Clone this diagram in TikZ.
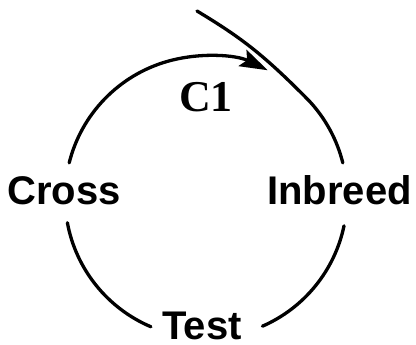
\documentclass[tikz,border=0pt]{standalone}
\usepackage{fontspec}
\setmainfont{Liberation Sans}
\newfontfamily\cfont{Liberation Serif}
\usetikzlibrary{arrows.meta,calc}
\tikzset{
  cyc/.style={line width=3.3pt, line cap=round},
  lab/.style={font=\fontsize{40}{40}\selectfont\bfseries, inner sep=0pt, anchor=base},
  clab/.style={font=\fontsize{44}{44}\selectfont\cfont\bfseries, inner sep=0pt, anchor=base}
}
\begin{document}
\begin{tikzpicture}[x=1pt,y=1pt]
\useasboundingbox (0,0) rectangle (416,345);
\coordinate (O) at (206,148);
\def\R{141}
% labels
\node[lab] (cross) at (64,140) {Cross};
\node[lab] (inbreed) at (339.5,140) {Inbreed};
\node[lab] (test) at (202,5) {Test};
\node[clab] (c1) at (206,233) {C1};
% points on the cycle
\coordinate (tl) at ($(O)+(166:\R)$);
\coordinate (bl) at ($(O)+(190.5:\R)$);
\coordinate (br) at ($(O)+(-66.4:\R)$);
\coordinate (ra) at ($(O)+(43:\R)$);
\coordinate (tail) at (197,334);
% top arc with arrow
\draw[cyc, -{Stealth[length=28pt,width=18pt,inset=5pt]}] (tl) arc[start angle=166, end angle=64, radius=\R];
% tail entering from the top and right arc down to Inbreed
\draw[cyc] (tail) .. controls (240,308) and (262,292) .. (ra) arc[start angle=43, end angle=14, radius=\R];
% bottom left arc
\draw[cyc] (bl) arc[start angle=190.5, end angle=247, radius=\R];
% bottom right arc
\draw[cyc] (br) arc[start angle=-66.4, end angle=-11.8, radius=\R];
\end{tikzpicture}
\end{document}
